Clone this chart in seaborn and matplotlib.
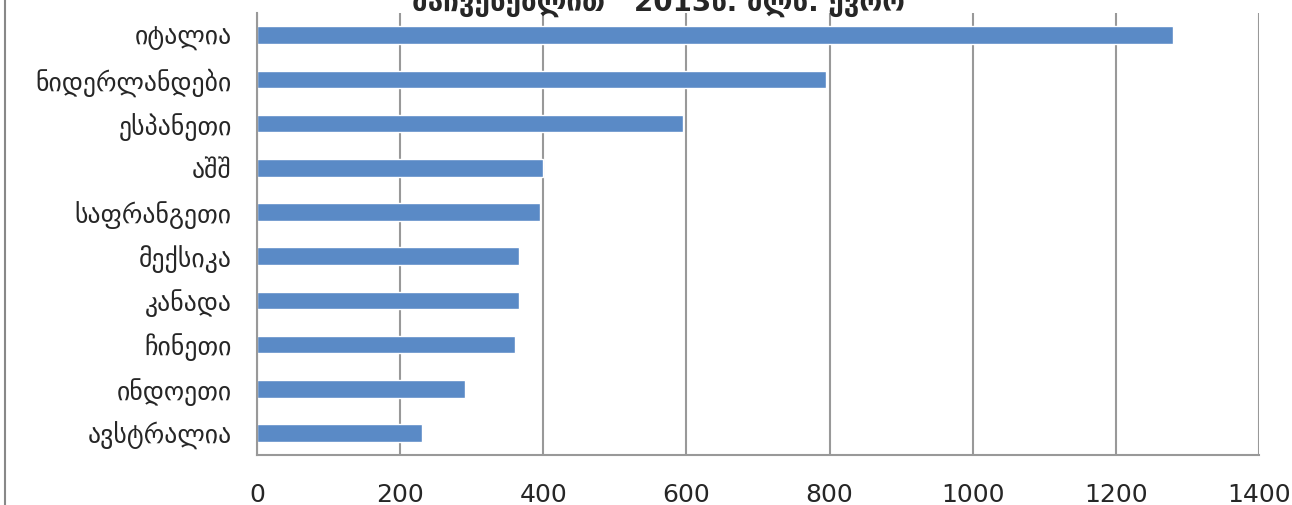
import pandas as pd
import matplotlib.pyplot as plt
import seaborn as sns
from matplotlib.lines import Line2D

countries = ['იტალია', 'ნიდერლანდები', 'ესპანეთი', 'აშშ', 'საფრანგეთი',
             'მექსიკა', 'კანადა', 'ჩინეთი', 'ინდოეთი', 'ავსტრალია']
values = [1280, 795, 595, 400, 396, 366, 366, 360, 290, 230]
xticks = [0, 200, 400, 600, 800, 1000, 1200, 1400]

sns.set_theme(style="white")
plt.rcParams['font.family'] = ['DejaVu Sans']

data = pd.DataFrame({'country': countries, 'value': values})

fig = plt.figure(figsize=(12.92, 5.05), dpi=100)
ax = fig.add_axes([0.1989, 0.099, 0.7756, 0.875])

sns.barplot(data=data, x='value', y='country', orient='h', color='#5A8AC6',
            width=0.4, saturation=1, ax=ax)

ax.set_xlim(0, 1400)
ax.set_ylim(len(countries) - 0.5, -0.5)
ax.set_xticks(xticks)
ax.set_xticklabels([str(t) for t in xticks], fontsize=18, family=['Liberation Sans Narrow', 'DejaVu Sans'])
ax.set_yticks(range(len(countries)))
ax.set_yticklabels(countries, fontsize=18.5)
ax.set_xlabel('')
ax.set_ylabel('')

ax.grid(axis='x', color='#999999', linewidth=1.5)
ax.set_axisbelow(True)
for s in ['top', 'right']:
    ax.spines[s].set_visible(False)
for s in ['left', 'bottom']:
    ax.spines[s].set_color('#999999')
    ax.spines[s].set_linewidth(1.5)

# tick marks between categories, like the office chart
ax.set_yticks([i + 0.5 for i in range(-1, len(countries))], minor=True)
ax.tick_params(axis='y', which='major', length=0, pad=18)
ax.tick_params(axis='y', which='minor', length=8, color='#999999', width=1.5, direction='out')
ax.tick_params(axis='x', length=8, color='#999999', width=1.5, direction='out', pad=12)

fig.text(0.51, 0.966, 'მაჩვენებლით   2013წ. მლნ. ევრო', ha='center', va='bottom',
         fontsize=20, fontweight='bold')
fig.add_artist(Line2D([0.004, 0.004], [0, 1], transform=fig.transFigure,
                      color='#888888', linewidth=1.5))

fig.savefig('out.png', dpi=100)
